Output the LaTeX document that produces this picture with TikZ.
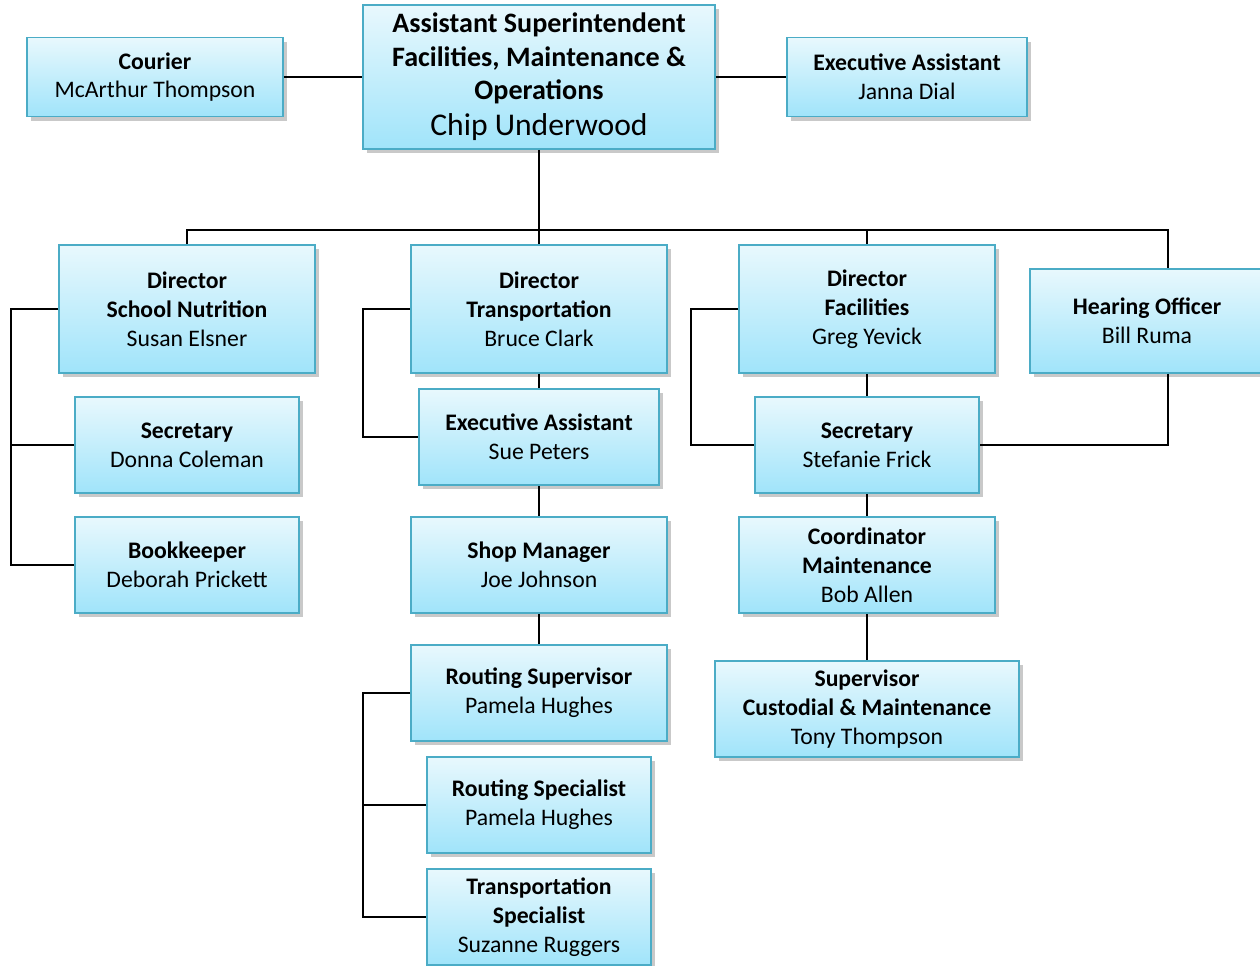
\documentclass[tikz,border=0pt]{standalone}
\usepackage{fontspec}
\setmainfont{Carlito}
\usetikzlibrary{shadows}
\definecolor{boxline}{RGB}{75,172,198}
\definecolor{boxtop}{RGB}{232,248,253}
\definecolor{boxbot}{RGB}{160,228,250}
\tikzset{
  post/.style={draw=boxline, line width=1.1pt, top color=boxtop,
    bottom color=boxbot, minimum width=#1, minimum height=1.92cm, align=center,
    inner sep=0pt, font=\fontsize{13.5}{16.4}\selectfont,
    drop shadow={shadow xshift=2.5pt, shadow yshift=-2.5pt, opacity=0.3, fill=black!70}},
  director/.style={post=5.12cm, minimum height=2.56cm},
  link/.style={line width=1.2pt}
}
\begin{document}
\begin{tikzpicture}[x=0.02cm, y=-0.02cm]
  \useasboundingbox (0,0) rectangle (1260,965);
  % top row
  \node[post=7.04cm, minimum height=2.88cm, font=\fontsize{16}{19}\selectfont\bfseries] (chief) at (539,77)
    {Assistant Superintendent\\Facilities, Maintenance \&\\Operations\\[1.5pt]
     \fontsize{18}{20}\selectfont\mdseries Chip Underwood};
  \node[post=5.12cm, minimum height=1.58cm] (courier) at (155,77) {\textbf{Courier}\\McArthur Thompson};
  \node[post=4.8cm, minimum height=1.58cm] (topasst) at (907,77) {\textbf{Executive Assistant}\\Janna Dial};
  % directors
  \node[director] (nutr) at (187,309) {\textbf{Director}\\\textbf{School Nutrition}\\Susan Elsner};
  \node[director] (transp) at (539,309) {\textbf{Director}\\\textbf{Transportation}\\Bruce Clark};
  \node[director] (fac) at (867,309) {\textbf{Director}\\\textbf{Facilities}\\Greg Yevick};
  \node[post=4.68cm, minimum height=2.08cm] (hear) at (1147,321) {\textbf{Hearing Officer}\\Bill Ruma};
  % school nutrition
  \node[post=4.48cm] (nutrsec) at (187,445) {\textbf{Secretary}\\Donna Coleman};
  \node[post=4.48cm] (bkp) at (187,565) {\textbf{Bookkeeper}\\Deborah Prickett};
  % transportation
  \node[post=4.8cm] (transpasst) at (539,437) {\textbf{Executive Assistant}\\Sue Peters};
  \node[post=5.12cm] (shop) at (539,565) {\textbf{Shop Manager}\\Joe Johnson};
  \node[post=5.12cm] (routsup) at (539,693) {\textbf{Routing Supervisor}\\Pamela Hughes};
  \node[post=4.48cm] (routspec) at (539,805) {\textbf{Routing Specialist}\\Pamela Hughes};
  \node[post=4.48cm] (transpspec) at (539,917) {\textbf{Transportation}\\\textbf{Specialist}\\Suzanne Ruggers};
  % facilities
  \node[post=4.48cm] (facsec) at (867,445) {\textbf{Secretary}\\Stefanie Frick};
  \node[post=5.12cm] (maint) at (867,565) {\textbf{Coordinator}\\\textbf{Maintenance}\\Bob Allen};
  \node[post=6.08cm] (cust) at (867,709) {\textbf{Supervisor}\\\textbf{Custodial \& Maintenance}\\Tony Thompson};
  % rails
  \coordinate (bus) at (539,230);
  \coordinate (lrail) at (11,0);
  \coordinate (trail) at (363,0);
  \coordinate (frail) at (691,0);
  \coordinate (hrail) at (1168,0);
  \draw[link] (courier.east) -- (chief.west);
  \draw[link] (chief.east) -- (topasst.west);
  \draw[link] (chief.south) -- (bus);
  \draw[link] (nutr.north) -- (nutr.north |- bus) -| (hear.north -| hrail);
  \draw[link] (bus) -- (transp.north);
  \draw[link] (fac.north |- bus) -- (fac.north);
  \draw[link] (hear.south -| hrail) |- (facsec.east);
  \draw[link] (nutr.west) -- (nutr.west -| lrail) |- (bkp.west);
  \draw[link] (nutrsec.west) -- (nutrsec.west -| lrail);
  \draw[link] (transp.west) -- (transp.west -| trail) |- (transpasst.west);
  \draw[link] (transp.south) -- (transpasst.north);
  \draw[link] (transpasst.south) -- (shop.north);
  \draw[link] (shop.south) -- (routsup.north);
  \draw[link] (routsup.west) -- (routsup.west -| trail) |- (transpspec.west);
  \draw[link] (routspec.west) -- (routspec.west -| trail);
  \draw[link] (fac.west) -- (fac.west -| frail) |- (facsec.west);
  \draw[link] (fac.south) -- (facsec.north);
  \draw[link] (facsec.south) -- (maint.north);
  \draw[link] (maint.south) -- (cust.north);
\end{tikzpicture}
\end{document}
